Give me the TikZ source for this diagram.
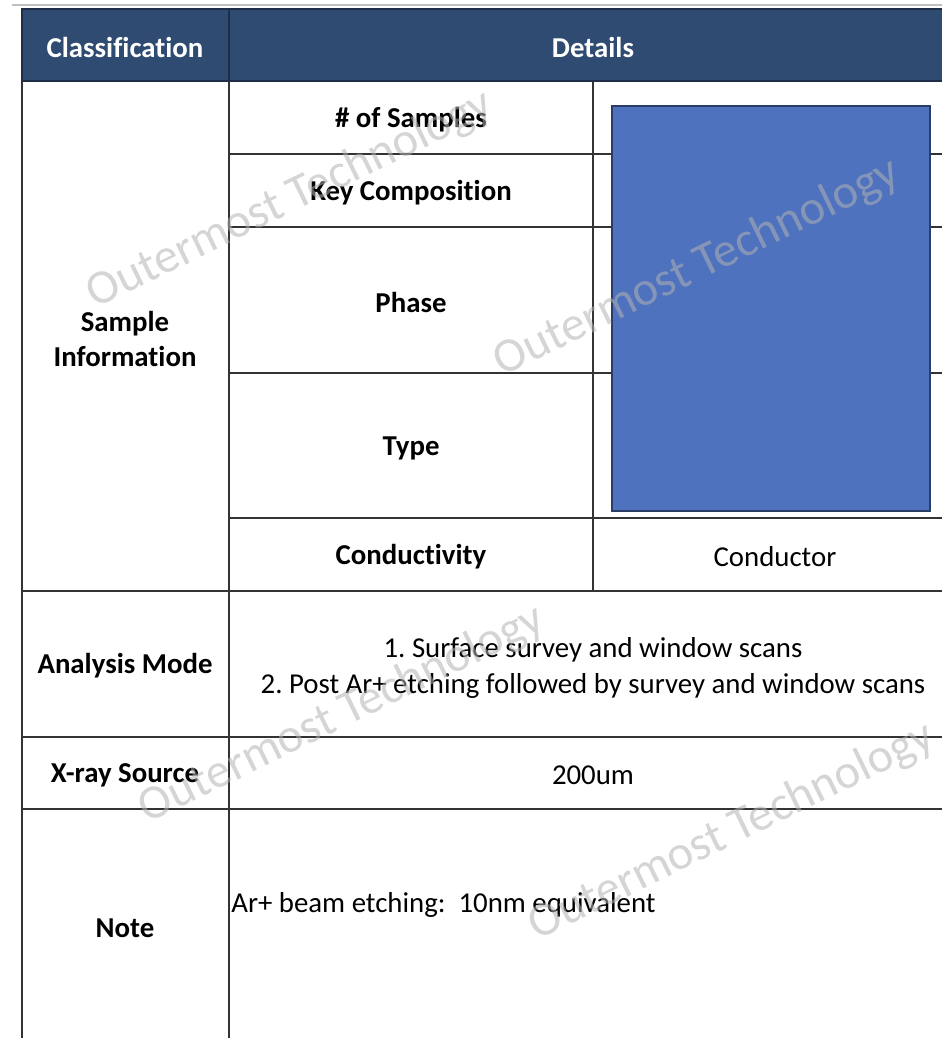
\documentclass[tikz,border=0pt]{standalone}
\usepackage{fontspec}
\setmainfont{Carlito}[RawFeature=-liga]
\usepackage{tikz}
\usetikzlibrary{positioning}
\definecolor{headblue}{RGB}{47,75,114}
\definecolor{headline}{RGB}{30,46,72}
\definecolor{boxblue}{RGB}{79,114,190}
\definecolor{boxline}{RGB}{40,62,104}
\definecolor{markgray}{RGB}{178,178,178}
\frenchspacing
\tikzset{
	tabline/.style={line width=0.8pt, black!80},
	headtxt/.style={text=white, font=\fontsize{16.4}{20}\selectfont\bfseries},
	celltxt/.style={font=\fontsize{16.4}{20}\selectfont\bfseries, align=center},
	valtxt/.style={font=\fontsize{16.4}{20.4}\selectfont, align=center},
	wmtxt/.style={text=markgray, opacity=0.55, rotate=26, font=\fontsize{27.5}{30}\selectfont},
}
\newcommand{\wmark}[3] % {name}{x}{y}
{
	\node (#1) [wmtxt] at (#2,#3) {Outermost Technology};
}
\begin{document}
\begin{tikzpicture}[x=0.02cm, y=-0.02cm]
	\useasboundingbox (0,0) rectangle (942,1038);
	%header band
	\draw [black!25, line width=0.6pt] (12,5) -- (942,5);
	\fill [headblue] (22,9) rectangle (942,81);
	\draw [headline, line width=1pt] (942,9) -- (22,9) -- (22,81) -- (942,81);
	\draw [headline, line width=1pt] (229,9) -- (229,81);
	\node (hclass) [headtxt] at (125,47) {Classification};
	\node (hdet) [headtxt] at (593,47) {Details};
	
	%grid of the body
	\draw [tabline, line width=1.2pt] (22,81) -- (22,1038);
	\draw [tabline] (229,81) -- (229,1038);
	\draw [tabline] (593,81) -- (593,591);
	\foreach \y in {154,227,373,518}
		\draw [tabline] (229,\y) -- (942,\y);
	\foreach \y in {591,737,809}
		\draw [tabline] (22,\y) -- (942,\y);
	\draw [boxline, fill=boxblue, line width=0.8pt] (612,106) rectangle (930,511);
	
	\node (sinfo) [celltxt] at (125,339) {Sample\\Information};
	\node (nsamp) [celltxt] at (411,120) {\# of Samples};
	\node (kcomp) [celltxt] at (411,193) {Key Composition};
	\node (phase) [celltxt] at (411,302) {Phase};
	\node (type) [celltxt] at (411,448) {Type};
	\node (cond) [celltxt] at (411,557) {Conductivity};
	\node (condv) [valtxt] at (775,557) {Conductor};
	
	\node (amode) [celltxt] at (125,666) {Analysis Mode};
	\node (amodev) [valtxt] at (593,668) {1. Surface survey and window scans\\2. Post Ar+ etching followed by survey and window scans};
	\node (xsrc) [celltxt] at (125,775) {X-ray Source};
	\node (xsrcv) [valtxt] at (593,775) {200um};
	\node (note) [celltxt] at (125,928) {Note};
	\node (notev) [valtxt, anchor=west, inner sep=0pt] at (231,905) {Ar+ beam etching:~ 10nm equivalent};
	
	%watermarks
	\wmark{wma}{290}{200}
	\wmark{wmb}{697}{268}
	\wmark{wmc}{342}{715}
	\wmark{wmd}{732}{832}
\end{tikzpicture}
\end{document}
